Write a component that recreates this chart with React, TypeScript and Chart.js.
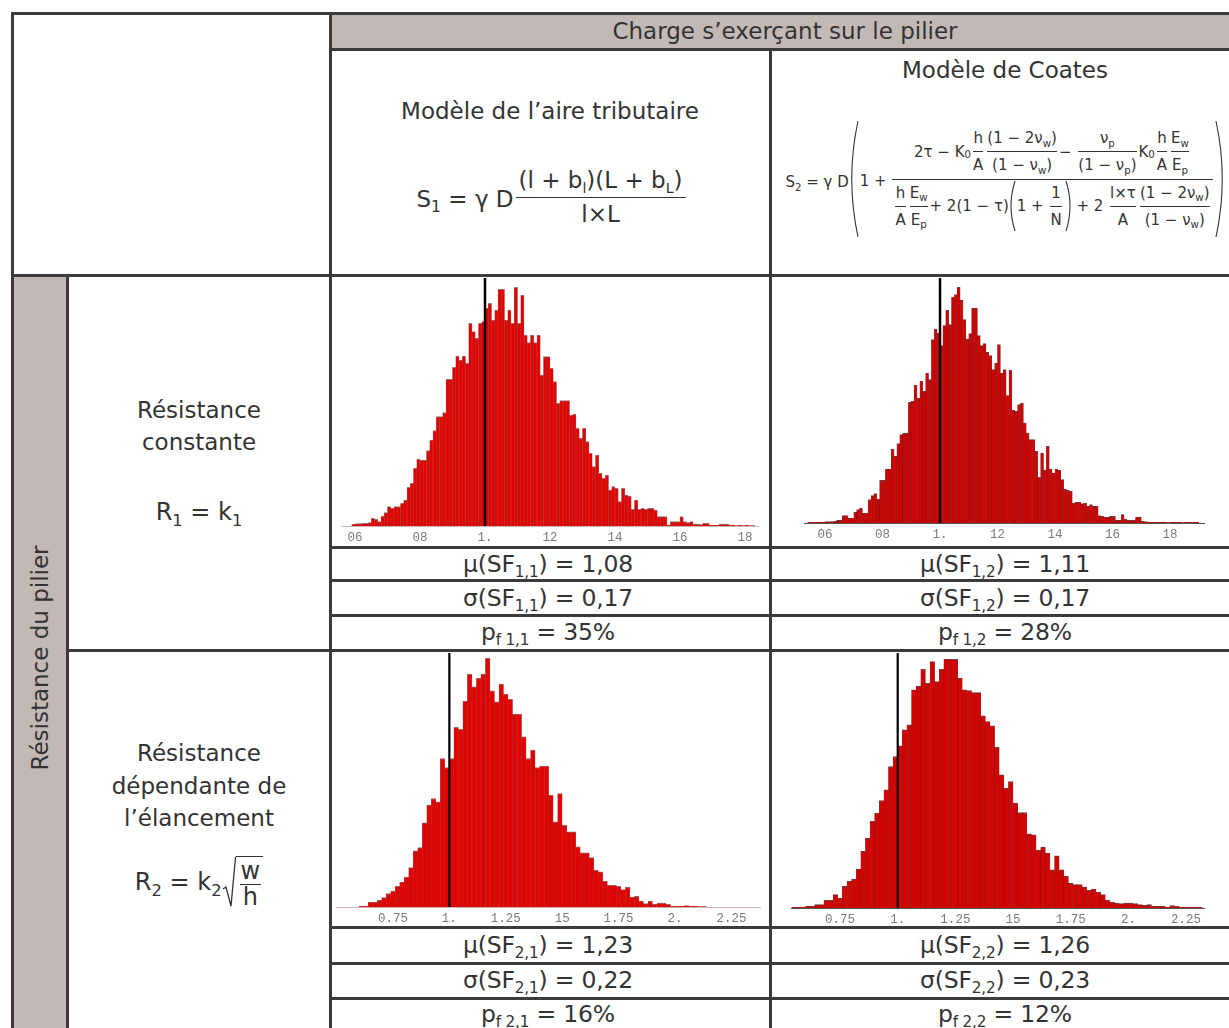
import React, { useEffect, useRef } from 'react';
import { Chart, registerables } from 'chart.js';

Chart.register(...registerables);

// ---------- DATA ----------
// Histogram 1,1 : tributary area load, constant strength (bins of 0.01 from 0.59)
const h11BinStart = 0.59;
const h11BinWidth = 0.01;
const h11Counts = [
  6, 7, 7, 8, 8, 10, 23, 20, 13, 30,
  40, 58, 53, 58, 58, 68, 78, 116, 128, 173,
  201, 198, 198, 226, 258, 286, 328, 328, 340, 440,
  440, 476, 510, 498, 510, 488, 608, 583, 563, 608,
  613, 653, 668, 618, 648, 710, 710, 618, 648, 608,
  716, 608, 693, 573, 550, 573, 550, 573, 453, 508,
  508, 473, 433, 368, 376, 376, 376, 333, 336, 293,
  263, 293, 253, 218, 178, 213, 158, 143, 153, 108,
  118, 113, 73, 113, 93, 90, 50, 78, 50, 53,
  50, 53, 53, 48, 28, 28, 28, 2, 13, 13,
  13, 28, 13, 10, 13, 6, 6, 4, 8, 8,
  2, 2, 2, 6, 6, 5, 2, 2, 1, 2,
  1, 2, 1, 1,
];

// Histogram 1,2 : Coates load, constant strength (bins of 0.01 from 0.54)
const h12BinStart = 0.54;
const h12BinWidth = 0.01;
const h12Counts = [
  2, 2, 2, 3, 3, 3, 4, 4, 4, 5,
  8, 8, 22, 22, 15, 15, 32, 40, 45, 30,
  30, 70, 82, 88, 72, 128, 128, 162, 162, 222,
  200, 238, 265, 270, 270, 362, 365, 413, 375, 425,
  395, 450, 430, 550, 582, 570, 532, 592, 638, 595,
  678, 685, 707, 668, 610, 552, 568, 645, 645, 562,
  532, 538, 512, 502, 460, 480, 535, 450, 460, 382,
  458, 338, 335, 355, 360, 300, 270, 250, 250, 215,
  138, 210, 158, 230, 162, 150, 162, 158, 130, 102,
  98, 95, 60, 62, 62, 58, 60, 50, 55, 50,
  50, 22, 20, 18, 18, 20, 20, 8, 8, 25,
  12, 8, 8, 8, 18, 18, 5, 4, 3, 2,
  3, 2, 2, 3, 2, 1, 2, 2, 3, 2,
  1, 2, 2, 3, 2, 2,
];

// Histogram 2,1 : tributary area load, slenderness-dependent strength (bins of 0.02 from 0.60)
const h21BinStart = 0.6;
const h21BinWidth = 0.02;
const h21Counts = [
  2, 3, 15, 15, 20, 28, 40, 48, 62, 75,
  90, 118, 168, 178, 252, 305, 325, 315, 445, 418,
  445, 538, 532, 617, 697, 660, 685, 698, 745, 648,
  615, 668, 638, 622, 578, 578, 510, 445, 470, 418,
  422, 422, 335, 255, 340, 245, 225, 225, 180, 162,
  162, 148, 110, 105, 78, 65, 65, 62, 52, 60,
  30, 32, 18, 10, 18, 8, 12, 12, 8, 3,
  2, 2, 4, 3, 2, 1, 1,
];

// Histogram 2,2 : Coates load, slenderness-dependent strength (bins of 0.02 from 0.54)
const h22BinStart = 0.54;
const h22BinWidth = 0.02;
const h22Counts = [
  2, 2, 3, 5, 5, 10, 10, 23, 23, 40,
  30, 65, 80, 87, 117, 170, 210, 260, 285, 323,
  355, 425, 455, 487, 535, 550, 655, 667, 717, 675,
  740, 680, 717, 748, 747, 747, 690, 655, 653, 647,
  647, 577, 560, 547, 483, 400, 360, 380, 315, 287,
  287, 223, 220, 173, 183, 165, 115, 157, 115, 95,
  75, 70, 70, 63, 53, 57, 47, 40, 23, 17,
  15, 13, 15, 15, 13, 10, 8, 10, 5, 5,
  5, 3, 7, 5, 3, 3, 3, 3, 3,
];

const ticksTopValues = [0.6, 0.8, 1.0, 1.2, 1.4, 1.6, 1.8];
const ticksTopLabels = ['06', '08', '1.', '12', '14', '16', '18'];
const ticksBottomValues = [0.75, 1.0, 1.25, 1.5, 1.75, 2.0, 2.25];
const ticksBottomLabels = ['0.75', '1.', '1.25', '15', '1.75', '2.', '2.25'];

const failureThreshold = 1.0;

const statIndex = ['1,1', '1,2', '2,1', '2,2'];
const statMu = ['1,08', '1,11', '1,23', '1,26'];
const statSigma = ['0,17', '0,17', '0,22', '0,23'];
const statPf = ['35%', '28%', '16%', '12%'];

// ---------- STYLE ----------
const FONT = '"DejaVu Sans", Verdana, sans-serif';
const INK = '#333333';
const LINE = '#3b3b3b';
const TAUPE = '#c2b9b6';

type HistProps = {
  counts: number[];
  binStart: number;
  binWidth: number;
  xMin: number;
  xMax: number;
  tickValues: number[];
  tickLabels: string[];
  yMax: number;
  left: number;
  top: number;
  width: number;
  height: number;
  padLeft: number;
  padRight: number;
  axisH: number;
  fill: string;
  edge: string;
  axisColor: string;
  refWidth: number;
};

function Histogram(p: HistProps) {
  const ref = useRef<HTMLCanvasElement>(null);
  useEffect(() => {
    const canvas = ref.current;
    if (!canvas) return;
    const refLine = {
      id: 'refLine',
      afterDatasetsDraw(chart: any) {
        const { ctx, chartArea, scales } = chart;
        const x = scales.x.getPixelForValue(failureThreshold);
        ctx.save();
        ctx.strokeStyle = '#000';
        ctx.lineWidth = p.refWidth;
        ctx.beginPath();
        ctx.moveTo(x, chartArea.top);
        ctx.lineTo(x, chartArea.bottom);
        ctx.stroke();
        ctx.restore();
      },
    };
    const chart = new Chart(canvas, {
      type: 'bar',
      data: {
        datasets: [
          {
            data: p.counts.map((c, i) => ({ x: p.binStart + p.binWidth * (i + 0.5), y: c })),
            backgroundColor: p.fill,
            borderColor: p.edge,
            borderWidth: { top: 1, left: 0.5, right: 0.5, bottom: 0 },
            borderSkipped: 'start',
            barPercentage: 1,
            categoryPercentage: 1,
            grouped: false,
          } as any,
        ],
      },
      options: {
        animation: false,
        responsive: false,
        maintainAspectRatio: false,
        layout: { padding: { left: p.padLeft, right: p.padRight, top: 0, bottom: 0 } },
        plugins: { legend: { display: false }, tooltip: { enabled: false } },
        scales: {
          x: {
            type: 'linear',
            min: p.xMin,
            max: p.xMax,
            offset: false,
            grid: { display: true, drawOnChartArea: false, drawTicks: false },
            border: { display: true, color: p.axisColor, width: 1 },
            afterBuildTicks: (scale: any) => {
              scale.ticks = p.tickValues.map((v) => ({ value: v }));
            },
            afterFit: (scale: any) => {
              scale.height = p.axisH;
            },
            ticks: {
              autoSkip: false,
              maxRotation: 0,
              minRotation: 0,
              padding: 4,
              color: '#7a7a7a',
              font: { family: '"Liberation Mono", "DejaVu Sans Mono", monospace', size: 12.5 },
              callback: (_v: any, i: number) => p.tickLabels[i],
            },
          } as any,
          y: { display: false, min: 0, max: p.yMax },
        },
      },
      plugins: [refLine],
    });
    return () => chart.destroy();
  }, []);
  return (
    <canvas
      ref={ref}
      width={p.width}
      height={p.height}
      style={{ position: 'absolute', left: p.left, top: p.top, width: p.width, height: p.height }}
    />
  );
}

const HLine = ({ x1, x2, y }: { x1: number; x2: number; y: number }) => (
  <div style={{ position: 'absolute', left: x1, top: y - 1.5, width: x2 - x1, height: 3, background: LINE }} />
);
const VLine = ({ x, y1, y2 }: { x: number; y1: number; y2: number }) => (
  <div style={{ position: 'absolute', left: x - 1.5, top: y1, width: 3, height: y2 - y1, background: LINE }} />
);

const Sub = ({ children, s = 0.68 }: { children: any; s?: number }) => (
  <span style={{ fontSize: `${s}em`, position: 'relative', top: '0.35em', lineHeight: 0 }}>{children}</span>
);

const Frac = ({ n, d, pad = 2, lh = 1.2, m = 2 }: { n: any; d: any; pad?: number; lh?: number; m?: number }) => (
  <span style={{ display: 'inline-flex', flexDirection: 'column', alignItems: 'center', margin: `0 ${m}px` }}>
    <span style={{ padding: `0 ${pad}px`, lineHeight: lh, whiteSpace: 'nowrap', display: 'inline-flex', alignItems: 'center' }}>{n}</span>
    <span style={{ alignSelf: 'stretch', borderTop: `1px solid ${INK}` }} />
    <span style={{ padding: `0 ${pad}px`, lineHeight: lh, whiteSpace: 'nowrap', display: 'inline-flex', alignItems: 'center' }}>{d}</span>
  </span>
);

const Row = ({ children }: { children: any }) => (
  <span style={{ display: 'inline-flex', alignItems: 'center', whiteSpace: 'pre' }}>{children}</span>
);

const Paren = ({ h, right = false, w = 8 }: { h: number; right?: boolean; w?: number }) => (
  <svg width={w} height={h} style={{ display: 'block', margin: '0 1px' }}>
    <path
      d={right ? `M1 1 Q${w * 1.5} ${h / 2} 1 ${h - 1}` : `M${w - 1} 1 Q${-w * 0.5} ${h / 2} ${w - 1} ${h - 1}`}
      stroke={INK}
      strokeWidth={1.1}
      fill="none"
    />
  </svg>
);

const StatText = ({ cx, cy, children }: { cx: number; cy: number; children: any }) => (
  <div
    style={{
      position: 'absolute',
      left: cx - 220,
      width: 440,
      top: cy - 17,
      height: 34,
      lineHeight: '34px',
      textAlign: 'center',
      fontSize: 23.5,
      whiteSpace: 'nowrap',
      letterSpacing: -0.2,
    }}
  >
    {children}
  </div>
);

export default function App() {
  const colX = [548, 1005];
  const statRowsY = [
    [564, 598, 632],
    [945, 980, 1014],
  ];
  const ilh = 1.75;
  return (
    <div
      style={{
        position: 'fixed',
        left: 0,
        top: 0,
        width: 1229,
        height: 1028,
        overflow: 'hidden',
        background: '#fff',
        fontFamily: FONT,
        color: INK,
      }}
    >
      {/* fills */}
      <div style={{ position: 'absolute', left: 331, top: 14, width: 900, height: 35, background: TAUPE }} />
      <div style={{ position: 'absolute', left: 13, top: 276, width: 54, height: 760, background: TAUPE }} />

      {/* header texts */}
      <div style={{ position: 'absolute', left: 585, width: 400, top: 15, height: 33, lineHeight: '33px', textAlign: 'center', fontSize: 23 }}>
        Charge s’exerçant sur le pilier
      </div>
      <div style={{ position: 'absolute', left: 805, width: 400, top: 54, height: 32, lineHeight: '32px', textAlign: 'center', fontSize: 23 }}>
        Modèle de Coates
      </div>
      <div style={{ position: 'absolute', left: 350, width: 400, top: 95, height: 32, lineHeight: '32px', textAlign: 'center', fontSize: 23 }}>
        Modèle de l’aire tributaire
      </div>

      {/* S1 formula */}
      <div
        style={{
          position: 'absolute', left: 334, width: 436, top: 152, height: 90,
          display: 'flex', alignItems: 'center', justifyContent: 'center', fontSize: 23, whiteSpace: 'pre',
        }}
      >
        <span style={{ position: 'relative', top: 2 }}>S<Sub>1</Sub> = γ D</span>
        <Frac
          pad={3}
          lh={1.4}
          n={<span>(l + b<Sub s={0.62}>l</Sub>)(L + b<Sub s={0.62}>L</Sub>)</span>}
          d={<span>l×L</span>}
        />
      </div>

      {/* S2 formula (Coates) */}
      <div
        style={{
          position: 'absolute', left: 777, width: 456, top: 118, height: 122,
          display: 'flex', alignItems: 'center', justifyContent: 'center', fontSize: 15, whiteSpace: 'pre',
        }}
      >
        <span style={{ position: 'relative', top: 3 }}>S<Sub>2</Sub> = γ D</span>
        <Paren h={118} w={9} />
        <span style={{ position: 'relative', top: 2 }}>1 + </span>
        <Frac
          pad={1}
          m={1}
          n={
            <Row>
              2τ − K<Sub>0</Sub>{' '}
              <Frac n="h" d="A" pad={0} lh={ilh} />
              <Frac n={<span>(1 − 2ν<Sub>w</Sub>)</span>} d={<span>(1 − ν<Sub>w</Sub>)</span>} pad={0} lh={ilh} />
              {'− '}
              <Frac n={<span>ν<Sub>p</Sub></span>} d={<span>(1 − ν<Sub>p</Sub>)</span>} pad={0} lh={ilh} />
              K<Sub>0</Sub>{' '}
              <Frac n="h" d="A" pad={0} lh={ilh} />
              <Frac n={<span>E<Sub>w</Sub></span>} d={<span>E<Sub>p</Sub></span>} pad={0} lh={ilh} />
            </Row>
          }
          d={
            <Row>
              <Frac n="h" d="A" pad={0} lh={ilh} />
              <Frac n={<span>E<Sub>w</Sub></span>} d={<span>E<Sub>p</Sub></span>} pad={0} lh={ilh} />
              {'+ 2(1 − τ)'}
              <Paren h={52} w={6} />
              {'1 + '}
              <Frac n="1" d="N" pad={0} lh={ilh} />
              <Paren h={52} w={6} right />
              {' + 2 '}
              <Frac n="l×τ" d="A" pad={0} lh={ilh} />
              <Frac n={<span>(1 − 2ν<Sub>w</Sub>)</span>} d={<span>(1 − ν<Sub>w</Sub>)</span>} pad={0} lh={ilh} />
            </Row>
          }
        />
        <Paren h={118} w={9} right />
      </div>

      {/* left labels */}
      <div style={{ position: 'absolute', left: 69, width: 260, top: 394, textAlign: 'center', fontSize: 23, lineHeight: '32px' }}>
        Résistance<br />constante
      </div>
      <div style={{ position: 'absolute', left: 69, width: 260, top: 494, height: 36, lineHeight: '36px', textAlign: 'center', fontSize: 24, whiteSpace: 'pre' }}>
        R<Sub>1</Sub> = k<Sub>1</Sub>
      </div>
      <div style={{ position: 'absolute', left: 69, width: 260, top: 737, textAlign: 'center', fontSize: 23, lineHeight: '32.5px' }}>
        Résistance<br />dépendante de<br />l’élancement
      </div>
      <div
        style={{
          position: 'absolute', left: 69, width: 260, top: 852, height: 60,
          display: 'flex', alignItems: 'center', justifyContent: 'center', fontSize: 24, whiteSpace: 'pre',
        }}
      >
        <span>R<Sub>2</Sub> = k<Sub>2</Sub></span>
        <svg width={14} height={52} style={{ display: 'block' }}>
          <path d="M1 33 L4 31 L9 50 L13.5 1.5 L14 1.5" stroke={INK} strokeWidth={1.3} fill="none" />
        </svg>
        <span style={{ borderTop: `1.3px solid ${INK}`, marginTop: 2, paddingLeft: 2 }}>
          <Frac n="w" d="h" pad={1} lh={1.05} />
        </span>
      </div>
      <div
        style={{
          position: 'absolute', left: 40 - 150, top: 658 - 16, width: 300, height: 32, lineHeight: '32px',
          textAlign: 'center', fontSize: 23, transform: 'rotate(-90deg)', whiteSpace: 'nowrap',
        }}
      >
        Résistance du pilier
      </div>

      {/* histograms */}
      <Histogram
        counts={h11Counts} binStart={h11BinStart} binWidth={h11BinWidth}
        xMin={0.56} xMax={1.84} tickValues={ticksTopValues} tickLabels={ticksTopLabels}
        yMax={744} left={333} top={278} width={434} height={266} padLeft={9} padRight={9} axisH={18}
        fill="#e40000" edge="rgba(80,0,0,0.55)" axisColor="#c9b3b3" refWidth={2.5}
      />
      <Histogram
        counts={h12Counts} binStart={h12BinStart} binWidth={h12BinWidth}
        xMin={0.53} xMax={1.92} tickValues={ticksTopValues} tickLabels={ticksTopLabels}
        yMax={735} left={773} top={278} width={454} height={266} padLeft={31.9} padRight={22.5} axisH={21}
        fill="#d20000" edge="rgba(60,0,0,0.75)" axisColor="#555" refWidth={2.5}
      />
      <Histogram
        counts={h21Counts} binStart={h21BinStart} binWidth={h21BinWidth}
        xMin={0.5} xMax={2.38} tickValues={ticksBottomValues} tickLabels={ticksBottomLabels}
        yMax={761} left={333} top={653} width={434} height={272} padLeft={3.5} padRight={6.2} axisH={18}
        fill="#e40000" edge="rgba(80,0,0,0.6)" axisColor="#d4b0b0" refWidth={2.2}
      />
      <Histogram
        counts={h22Counts} binStart={h22BinStart} binWidth={h22BinWidth}
        xMin={0.54} xMax={2.33} tickValues={ticksBottomValues} tickLabels={ticksBottomLabels}
        yMax={766} left={773} top={653} width={454} height={272} padLeft={18.6} padRight={22.5} axisH={17}
        fill="#d60000" edge="rgba(60,0,0,0.75)" axisColor="#555" refWidth={2.2}
      />

      {/* stats */}
      {[0, 1].map((r) =>
        [0, 1].map((c) => {
          const k = r * 2 + c;
          const ys = statRowsY[r];
          return (
            <React.Fragment key={k}>
              <StatText cx={colX[c]} cy={ys[0]}>
                μ(SF<Sub s={0.65}>{statIndex[k]}</Sub>) = {statMu[k]}
              </StatText>
              <StatText cx={colX[c]} cy={ys[1]}>
                σ(SF<Sub s={0.65}>{statIndex[k]}</Sub>) = {statSigma[k]}
              </StatText>
              <StatText cx={colX[c]} cy={ys[2]}>
                p<Sub s={0.65}>{'f ' + statIndex[k]}</Sub> = {statPf[k]}
              </StatText>
            </React.Fragment>
          );
        })
      )}

      {/* grid lines */}
      <HLine x1={11} x2={1235} y={13.5} />
      <HLine x1={330} x2={1235} y={49.5} />
      <HLine x1={11} x2={1235} y={275.5} />
      <HLine x1={330} x2={1235} y={547} />
      <HLine x1={330} x2={1235} y={580.5} />
      <HLine x1={330} x2={1235} y={615} />
      <HLine x1={67} x2={1235} y={650} />
      <HLine x1={330} x2={1235} y={927} />
      <HLine x1={330} x2={1235} y={963} />
      <HLine x1={330} x2={1235} y={998.5} />
      <VLine x={12.5} y1={12} y2={1030} />
      <VLine x={67.5} y1={274} y2={1030} />
      <VLine x={330.5} y1={12} y2={1030} />
      <VLine x={770.5} y1={48} y2={1030} />
    </div>
  );
}
